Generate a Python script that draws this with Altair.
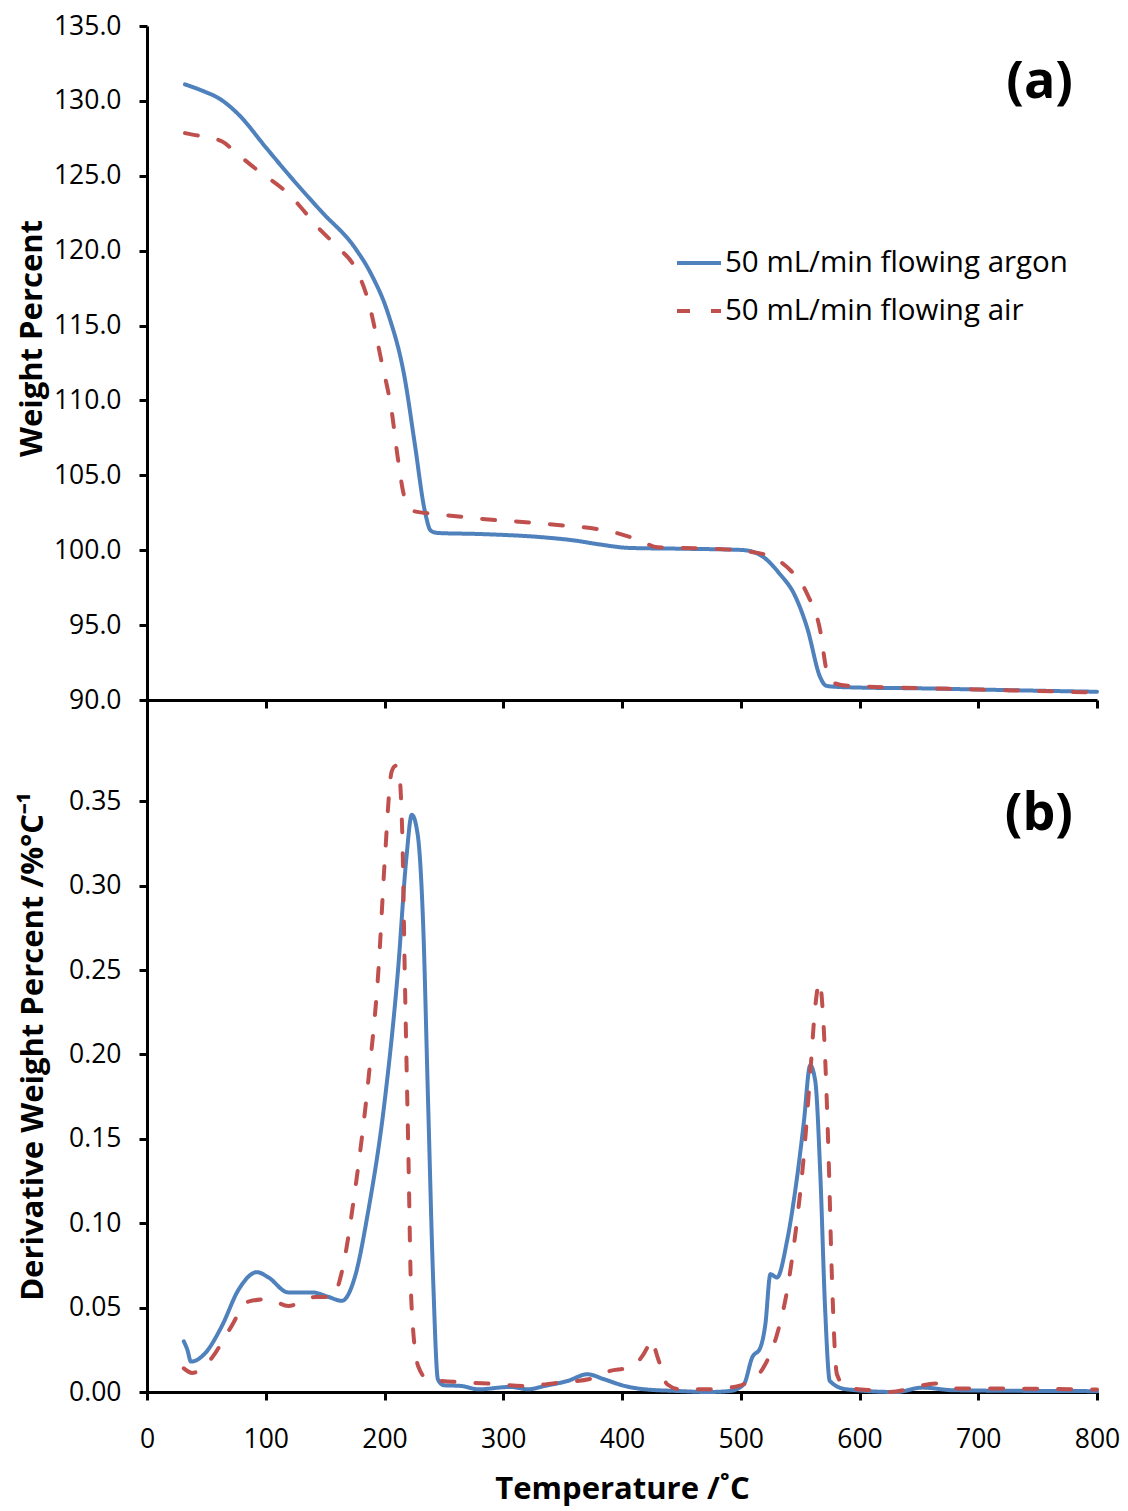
import altair as alt
import pandas as pd

ARGON = "50 mL/min flowing argon"
AIR = "50 mL/min flowing air"

# ---- (a) weight percent ----
t_arg_w = [32, 49, 60, 77, 100, 119, 147, 175, 189, 203, 217, 225.5, 234, 239, 245, 281, 337, 360,
           380, 407, 450, 500, 510, 519, 533, 545, 556, 567, 572, 580, 600, 650, 700, 750, 800]
w_arg = [131.1, 130.6, 130.2, 129.1, 126.9, 125.1, 122.6, 120.2, 118.4, 115.8, 111.5, 107.1, 102.6,
         101.3, 101.15, 101.08, 100.84, 100.65, 100.4, 100.15, 100.1, 100.02, 99.9, 99.55, 98.4, 97.07,
         94.8, 91.5, 90.95, 90.88, 90.83, 90.78, 90.7, 90.62, 90.55]

t_air_w = [32, 48, 63, 77, 91, 119, 147, 161, 175, 186.5, 197.5, 206, 211.5, 217, 225, 245, 281, 337,
           393, 415, 430, 477, 513, 530, 540, 556, 567, 572.5, 578, 590, 650, 700, 750, 800]
w_air = [127.85, 127.6, 127.3, 126.4, 125.5, 123.8, 121.3, 120.2, 118.9, 116.6, 112.6, 109.3, 106.0,
         103.5, 102.6, 102.4, 102.1, 101.75, 101.2, 100.65, 100.2, 100.1, 99.84, 99.4, 98.8, 97.07,
         94.6, 91.9, 91.15, 90.95, 90.8, 90.7, 90.6, 90.5]

# ---- (b) derivative weight percent ----
t_arg_d = [31, 34, 37, 49, 63, 77, 92.6, 102, 119, 139, 153, 164, 175, 186, 200, 211.5, 218.5, 223,
           228, 232.5, 236.7, 241, 245, 250, 264, 279, 306, 321, 335, 354, 371, 385, 402, 419, 447,
           472, 491, 502.6, 509.6, 516.5, 520.7, 525, 530.5, 539, 547, 553, 558.5, 562.7, 567, 571,
           575, 589, 631, 653, 680, 800]
d_arg = [0.030, 0.025, 0.018, 0.023, 0.039, 0.0605, 0.071, 0.068, 0.059, 0.059, 0.0563, 0.054, 0.068,
         0.106, 0.1715, 0.251, 0.317, 0.342, 0.330, 0.278, 0.172, 0.066, 0.0074, 0.004, 0.0036, 0.0016,
         0.003, 0.0016, 0.0036, 0.0065, 0.0105, 0.0075, 0.0036, 0.0016, 0.0006, 0.0, 0.0006, 0.0046,
         0.0204, 0.0263, 0.040, 0.0698, 0.0678, 0.0896, 0.125, 0.159, 0.1935, 0.1845, 0.129, 0.050,
         0.0065, 0.0016, 0.0, 0.0026, 0.001, 0.0005]

t_air_d = [31, 38, 55, 69, 86, 102, 119, 142, 156, 164, 175, 186.4, 195, 200.4, 206, 209.5, 212, 215,
           217, 220, 222.7, 228.3, 236.7, 259, 287, 318, 346, 374, 390, 405, 421, 424, 431, 438, 449,
           474, 491, 505, 519, 530.5, 539, 547, 553, 558.5, 562.7, 566.3, 569.7, 574, 576.7, 581, 589,
           617, 625, 665, 678, 720, 800]
d_air = [0.014, 0.0113, 0.0206, 0.0365, 0.0537, 0.055, 0.051, 0.0563, 0.0563, 0.071, 0.1186, 0.1848,
         0.251, 0.317, 0.3675, 0.371, 0.368, 0.330, 0.251, 0.145, 0.0524, 0.0154, 0.0074, 0.006, 0.005,
         0.0036, 0.0055, 0.0079, 0.0125, 0.0144, 0.026, 0.031, 0.0184, 0.0046, 0.0016, 0.0016, 0.0026,
         0.0055, 0.0144, 0.034, 0.060, 0.0995, 0.139, 0.1885, 0.228, 0.243, 0.218, 0.139, 0.0698,
         0.0105, 0.0026, 0.0006, 0.0, 0.005, 0.002, 0.002, 0.0015]

x_ticks = [0, 100, 200, 300, 400, 500, 600, 700, 800]
w_ticks = [90, 95, 100, 105, 110, 115, 120, 125, 130, 135]
d_ticks = [0.0, 0.05, 0.10, 0.15, 0.20, 0.25, 0.30, 0.35]

df_w = pd.concat([
    pd.DataFrame({"T": t_arg_w, "v": w_arg, "series": ARGON, "o": range(len(t_arg_w))}),
    pd.DataFrame({"T": t_air_w, "v": w_air, "series": AIR, "o": range(len(t_air_w))}),
])
df_d = pd.concat([
    pd.DataFrame({"T": t_arg_d, "v": d_arg, "series": ARGON, "o": range(len(t_arg_d))}),
    pd.DataFrame({"T": t_air_d, "v": d_air, "series": AIR, "o": range(len(t_air_d))}),
])

FONT = "Open Sans"
W = 950
dom = [ARGON, AIR]
color_scale = alt.Scale(domain=dom, range=["#4F81BD", "#C0504D"])
dash_scale = alt.Scale(domain=dom, range=[[1, 0], [13, 21]])

legend = alt.Legend(
    title=None, orient="none", legendX=528, legendY=213, symbolType="stroke",
    symbolSize=1936, symbolStrokeWidth=4, labelFontSize=29.5, labelFont=FONT, labelColor="black",
    labelOffset=2, rowPadding=9, labelLimit=0,
)

line_w = alt.Chart(df_w).mark_line(strokeWidth=4, interpolate="monotone", strokeCap="round").encode(
    x=alt.X("T:Q", scale=alt.Scale(domain=[0, 800], nice=False),
            axis=alt.Axis(values=x_ticks, labels=False, title=None)),
    y=alt.Y("v:Q", scale=alt.Scale(domain=[90, 135], nice=False, zero=False),
            axis=alt.Axis(values=w_ticks, format=".1f", title="Weight Percent", titlePadding=5,
                          titleY=312)),
    color=alt.Color("series:N", scale=color_scale, legend=legend),
    strokeDash=alt.StrokeDash("series:N", scale=dash_scale, legend=legend),
    order="o:Q",
)
lab_a = alt.Chart(pd.DataFrame({"t": ["(a)"]})).mark_text(
    fontSize=52, fontWeight="bold", font=FONT, align="right", baseline="middle", color="black"
).encode(x=alt.value(926), y=alt.value(56), text="t:N")

top = alt.layer(line_w, lab_a).properties(width=W, height=674)

line_d = alt.Chart(df_d).mark_line(strokeWidth=4, interpolate="monotone", strokeCap="round").encode(
    x=alt.X("T:Q", scale=alt.Scale(domain=[0, 800], nice=False),
            axis=alt.Axis(values=x_ticks, title="Temperature /˚C", labelPadding=26.5, titlePadding=21)),
    y=alt.Y("v:Q", scale=alt.Scale(domain=[0, 0.41], nice=False),
            axis=alt.Axis(values=d_ticks, format=".2f", title="Derivative Weight Percent /%°C⁻¹",
                          titlePadding=19)),
    color=alt.Color("series:N", scale=color_scale, legend=None),
    strokeDash=alt.StrokeDash("series:N", scale=dash_scale, legend=None),
    order="o:Q",
)
lab_b = alt.Chart(pd.DataFrame({"t": ["(b)"]})).mark_text(
    fontSize=52, fontWeight="bold", font=FONT, align="right", baseline="middle", color="black"
).encode(x=alt.value(926), y=alt.value(114), text="t:N")

bottom = alt.layer(line_d, lab_b).properties(width=W, height=692)

chart = alt.vconcat(top, bottom, spacing=0, bounds="flush").resolve_legend(
    color="independent", strokeDash="independent"
).configure(
    font=FONT, padding={"left": 8, "top": 5, "right": 0, "bottom": 12}
).configure_view(stroke=None).configure_axis(
    grid=False, domainColor="black", domainWidth=3, tickColor="black", tickWidth=3, tickSize=8,
    labelColor="black", labelFont=FONT, labelFontSize=26.5, labelOverlap=False, labelFlush=False,
    labelPadding=18, titleColor="black", titleFont=FONT, titleFontSize=31, titleFontWeight="bold",
)

chart.save("out.html", embed_options={"renderer": "svg", "actions": False})
